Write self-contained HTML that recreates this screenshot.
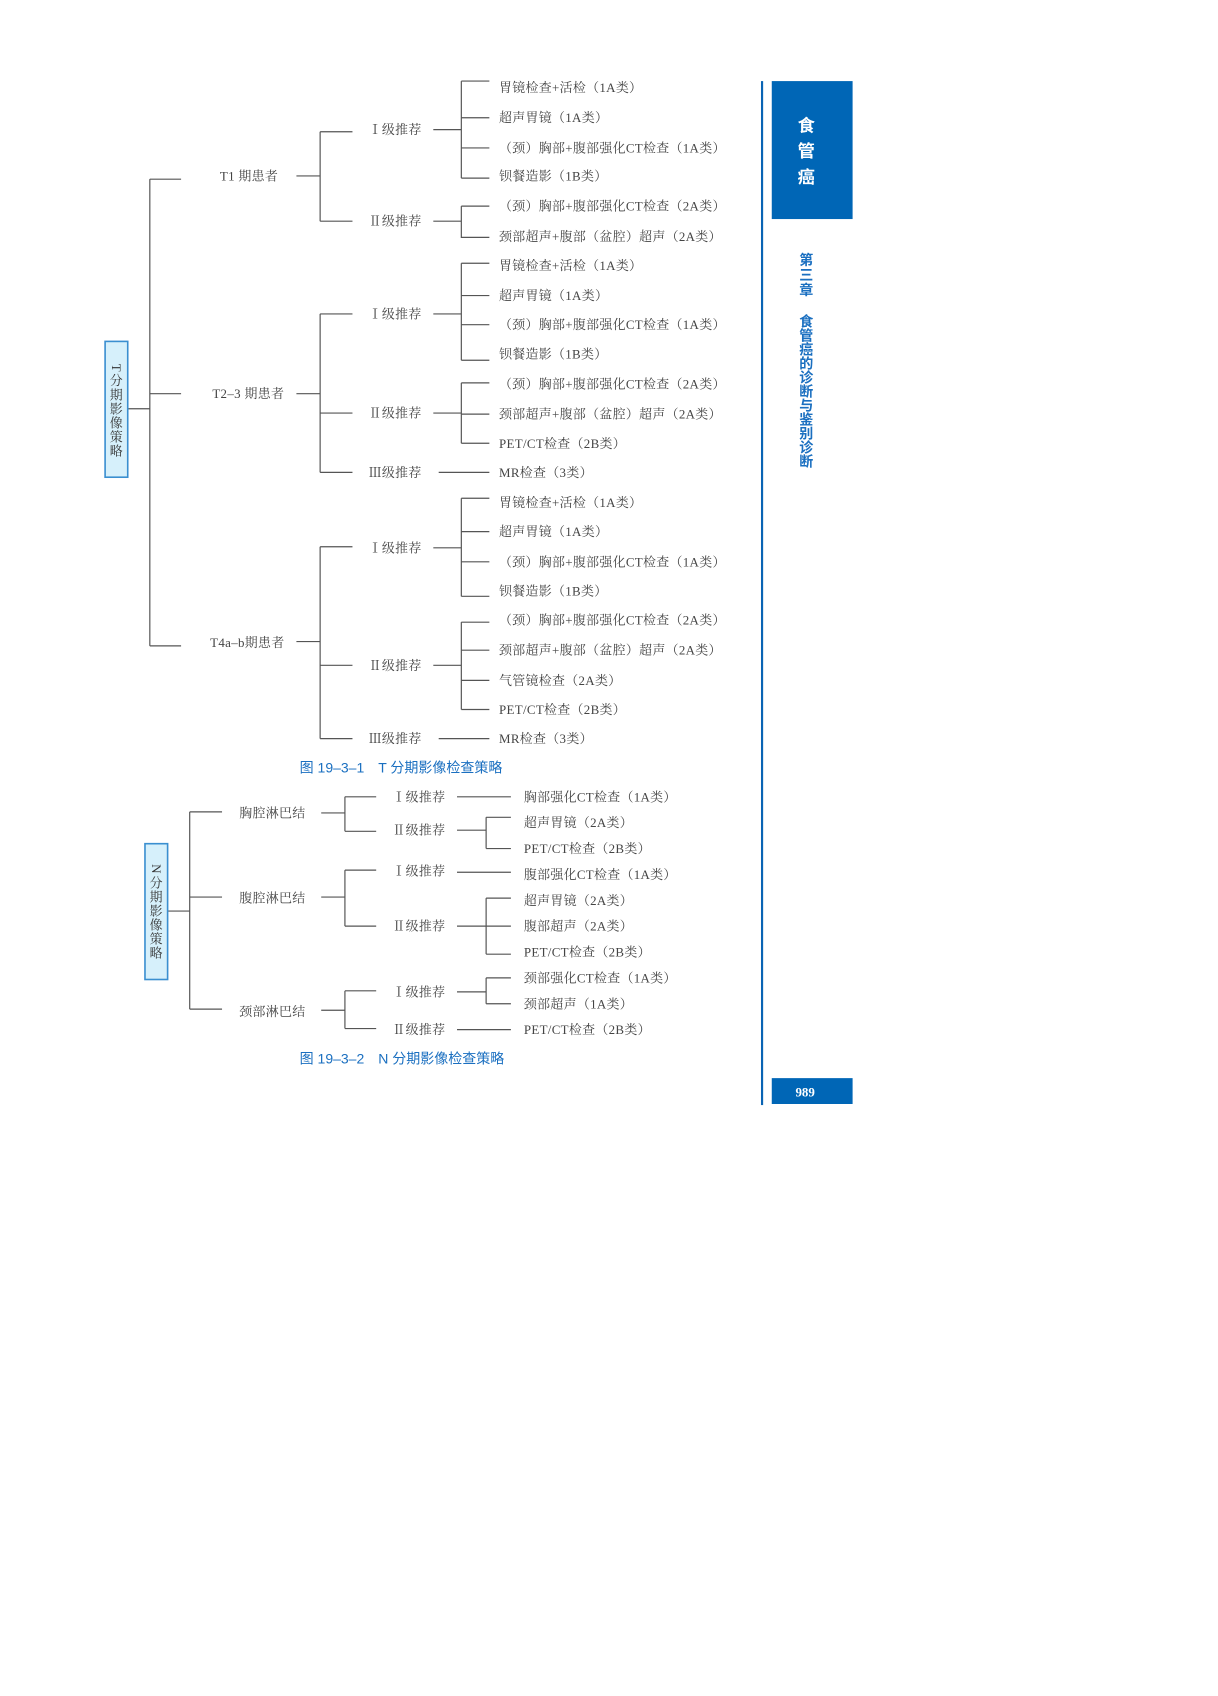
<!DOCTYPE html>
<html><head><meta charset="utf-8"><style>
html,body{margin:0;padding:0;background:#fff;}
svg{display:block;}
.t{font-family:"Liberation Serif","Noto Serif CJK SC",serif;font-size:12px;fill:#444;dominant-baseline:central;letter-spacing:0.3px;}
.c{font-family:"Liberation Sans","Noto Sans CJK SC",sans-serif;font-size:13px;fill:#1a6fc0;dominant-baseline:central;}
</style></head><body>
<svg width="1218" height="1696" viewBox="0 0 1130 1573" xmlns="http://www.w3.org/2000/svg">
<g transform="translate(2,1)">
<g stroke="#555" stroke-width="1.1" fill="none">
<path d="M117 378H137M137 165V598M137 165H166M137 364H166M137 598H166"/>
<path d="M273 162H295M295 121V204M295 121H325M295 204H325"/>
<path d="M400 119H426M426 74V164M426 74H452M426 108H452M426 136H452M426 164H452"/>
<path d="M400 204H426M426 190V219H452M426 190H452"/>
<path d="M273 364H295M295 290V437M295 290H325M295 382H325M295 437H325"/>
<path d="M400 290H426M426 243V333M426 243H452M426 273H452M426 300H452M426 333H452"/>
<path d="M400 382H426M426 354V410M426 354H452M426 383H452M426 410H452"/>
<path d="M405 437H452"/>
<path d="M273 594H295M295 506V684M295 506H325M295 616H325M295 684H325"/>
<path d="M400 507H426M426 461V552M426 461H452M426 492H452M426 520H452M426 552H452"/>
<path d="M400 616H426M426 576V657M426 576H452M426 602H452M426 630H452M426 657H452"/>
<path d="M405 684H452"/>
<path d="M153 844H174M174 752V935M174 752H204M174 831H204M174 935H204"/>
<path d="M296 753H318M318 738V770M318 738H347M318 770H347"/>
<path d="M422 738H472M422 769H449M449 757V786M449 757H472M449 786H472"/>
<path d="M296 831H318M318 806V858M318 806H347M318 858H347"/>
<path d="M422 808H472M422 858H449M449 832V884M449 832H472M449 858H472M449 884H472"/>
<path d="M296 936H318M318 918V953M318 918H347M318 953H347"/>
<path d="M422 919H449M449 906V930M449 906H472M449 930H472M422 954H472"/>
</g>
<rect x="95.5" y="315.5" width="21" height="126" fill="#d6f0fb" stroke="#3a8fd0" stroke-width="1.5"/>
<rect x="132.5" y="781.5" width="21" height="126" fill="#d6f0fb" stroke="#3a8fd0" stroke-width="1.5"/>
<g class="t" style="font-size:12px;fill:#333" text-anchor="middle">
<text x="106" y="340" transform="rotate(90 106 340)">T</text>
<text x="106" y="352">分</text><text x="106" y="365">期</text><text x="106" y="378">影</text><text x="106" y="391">像</text><text x="106" y="404">策</text><text x="106" y="417">略</text>
<text x="143" y="805" transform="rotate(90 143 805)">N</text>
<text x="143" y="818">分</text><text x="143" y="831">期</text><text x="143" y="844">影</text><text x="143" y="857">像</text><text x="143" y="870">策</text><text x="143" y="883">略</text>
</g>
<g class="t">
<text x="202" y="162">T1 期患者</text>
<text x="195" y="364">T2–3 期患者</text>
<text x="193" y="595">T4a–b期患者</text>
<text x="340" y="119">Ⅰ级推荐</text><text x="340" y="204">Ⅱ级推荐</text>
<text x="340" y="290">Ⅰ级推荐</text><text x="340" y="382">Ⅱ级推荐</text><text x="340" y="437">Ⅲ级推荐</text>
<text x="340" y="507">Ⅰ级推荐</text><text x="340" y="616">Ⅱ级推荐</text><text x="340" y="684">Ⅲ级推荐</text>
<text x="461" y="80">胃镜检查+活检（1A类）</text>
<text x="461" y="108">超声胃镜（1A类）</text>
<text x="461" y="136">（颈）胸部+腹部强化CT检查（1A类）</text>
<text x="461" y="162">钡餐造影（1B类）</text>
<text x="461" y="190">（颈）胸部+腹部强化CT检查（2A类）</text>
<text x="461" y="218">颈部超声+腹部（盆腔）超声（2A类）</text>
<text x="461" y="245">胃镜检查+活检（1A类）</text>
<text x="461" y="273">超声胃镜（1A类）</text>
<text x="461" y="300">（颈）胸部+腹部强化CT检查（1A类）</text>
<text x="461" y="327">钡餐造影（1B类）</text>
<text x="461" y="355">（颈）胸部+腹部强化CT检查（2A类）</text>
<text x="461" y="383">颈部超声+腹部（盆腔）超声（2A类）</text>
<text x="461" y="410">PET/CT检查（2B类）</text>
<text x="461" y="437">MR检查（3类）</text>
<text x="461" y="465">胃镜检查+活检（1A类）</text>
<text x="461" y="492">超声胃镜（1A类）</text>
<text x="461" y="520">（颈）胸部+腹部强化CT检查（1A类）</text>
<text x="461" y="547">钡餐造影（1B类）</text>
<text x="461" y="574">（颈）胸部+腹部强化CT检查（2A类）</text>
<text x="461" y="602">颈部超声+腹部（盆腔）超声（2A类）</text>
<text x="461" y="630">气管镜检查（2A类）</text>
<text x="461" y="657">PET/CT检查（2B类）</text>
<text x="461" y="684">MR检查（3类）</text>
<text x="220" y="753">胸腔淋巴结</text>
<text x="220" y="832">腹腔淋巴结</text>
<text x="220" y="937">颈部淋巴结</text>
<text x="362" y="738">Ⅰ级推荐</text><text x="362" y="769">Ⅱ级推荐</text>
<text x="362" y="807">Ⅰ级推荐</text><text x="362" y="858">Ⅱ级推荐</text>
<text x="362" y="919">Ⅰ级推荐</text><text x="362" y="954">Ⅱ级推荐</text>
<text x="484" y="738">胸部强化CT检查（1A类）</text>
<text x="484" y="762">超声胃镜（2A类）</text>
<text x="484" y="786">PET/CT检查（2B类）</text>
<text x="484" y="810">腹部强化CT检查（1A类）</text>
<text x="484" y="834">超声胃镜（2A类）</text>
<text x="484" y="858">腹部超声（2A类）</text>
<text x="484" y="882">PET/CT检查（2B类）</text>
<text x="484" y="906">颈部强化CT检查（1A类）</text>
<text x="484" y="930">颈部超声（1A类）</text>
<text x="484" y="954">PET/CT检查（2B类）</text>
</g>
<text class="c" x="276" y="711">图 19–3–1　T 分期影像检查策略</text>
<text class="c" x="276" y="981">图 19–3–2　N 分期影像检查策略</text>
<rect x="704" y="74" width="2" height="950" fill="#0a64b4"/>
<rect x="714" y="74" width="75" height="128" fill="#0066b6"/>
<g font-family="Liberation Sans,'Noto Sans CJK SC',sans-serif" font-size="16" font-weight="bold" fill="#fff" text-anchor="middle" dominant-baseline="central">
<text x="746" y="115">食</text><text x="746" y="139">管</text><text x="746" y="163">癌</text>
</g>
<g font-family="Liberation Sans,'Noto Sans CJK SC',sans-serif" font-size="13" font-weight="bold" fill="#1a6fc0" text-anchor="middle" dominant-baseline="central">
<text x="746" y="240">第</text><text x="746" y="254">三</text><text x="746" y="268">章</text>
<text x="746" y="297">食</text><text x="746" y="310">管</text><text x="746" y="323">癌</text><text x="746" y="336">的</text><text x="746" y="349">诊</text><text x="746" y="362">断</text><text x="746" y="375">与</text><text x="746" y="388">鉴</text><text x="746" y="401">别</text><text x="746" y="414">诊</text><text x="746" y="427">断</text>
</g>
<rect x="714" y="999" width="75" height="24" fill="#0066b6"/>
<text x="745" y="1012" font-family="Liberation Serif,serif" font-size="12" font-weight="bold" fill="#fff" text-anchor="middle" dominant-baseline="central">989</text>
</g>
</svg>
</body></html>
